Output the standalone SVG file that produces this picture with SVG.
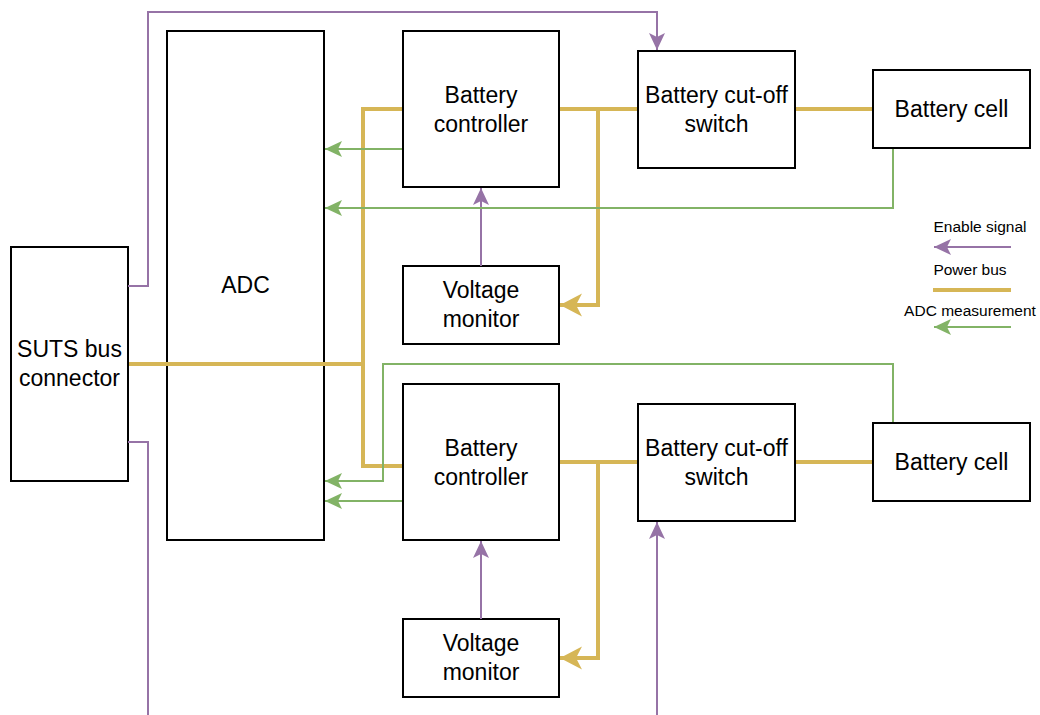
<svg xmlns="http://www.w3.org/2000/svg" width="1040" height="715" viewBox="0 0 1040 715">
<style>
.box{fill:#fff;stroke:#000;stroke-width:2}
.t{font-family:"Liberation Sans",Arial,sans-serif;font-size:23px;fill:#000;text-anchor:middle}
.lg{font-family:"Liberation Sans",Arial,sans-serif;font-size:15.5px;fill:#000;text-anchor:middle}
.en{fill:none;stroke:#9673a6;stroke-width:2}
.pw{fill:none;stroke:#d6b656;stroke-width:4}
.ad{fill:none;stroke:#82b366;stroke-width:2}
</style>
<defs>
<marker id="aP" markerUnits="userSpaceOnUse" viewBox="-18 -9 19 18" refX="0" refY="0" markerWidth="19" markerHeight="18" orient="auto"><path d="M0,0 L-17,-8 L-13,0 L-17,8 Z" fill="#9673a6"/></marker>
<marker id="aG" markerUnits="userSpaceOnUse" viewBox="-18 -9 19 18" refX="0" refY="0" markerWidth="19" markerHeight="18" orient="auto"><path d="M0,0 L-17,-8 L-13,0 L-17,8 Z" fill="#82b366"/></marker>
<marker id="aY" markerUnits="userSpaceOnUse" viewBox="-23 -12 24 24" refX="0" refY="0" markerWidth="24" markerHeight="24" orient="auto"><path d="M0,0 L-22,-11.5 L-16,0 L-22,11.5 Z" fill="#d6b656"/></marker>
</defs>
<g id="suts"><rect class="box" x="11" y="247" width="117" height="234"/><text class="t" x="69.5" y="357">SUTS bus</text><text class="t" x="69.5" y="386">connector</text></g>
<g id="adc"><rect class="box" x="167" y="31" width="157" height="509"/><text class="t" x="245.5" y="293">ADC</text></g>
<g id="ctrl1"><rect class="box" x="403" y="31" width="156" height="156"/><text class="t" x="481" y="103">Battery</text><text class="t" x="481" y="132">controller</text></g>
<g id="sw1"><rect class="box" x="638" y="51" width="157" height="117"/><text class="t" x="716.5" y="103">Battery cut-off</text><text class="t" x="716.5" y="132">switch</text></g>
<g id="cell1"><rect class="box" x="873" y="70" width="157" height="78"/><text class="t" x="951.5" y="117">Battery cell</text></g>
<g id="vm1"><rect class="box" x="403" y="266" width="156" height="78"/><text class="t" x="481" y="298">Voltage</text><text class="t" x="481" y="327">monitor</text></g>
<g id="ctrl2"><rect class="box" x="403" y="384" width="156" height="156"/><text class="t" x="481" y="456">Battery</text><text class="t" x="481" y="485">controller</text></g>
<g id="sw2"><rect class="box" x="638" y="404" width="157" height="117"/><text class="t" x="716.5" y="456">Battery cut-off</text><text class="t" x="716.5" y="485">switch</text></g>
<g id="cell2"><rect class="box" x="873" y="423" width="157" height="78"/><text class="t" x="951.5" y="470">Battery cell</text></g>
<g id="vm2"><rect class="box" x="403" y="619" width="156" height="78"/><text class="t" x="481" y="651">Voltage</text><text class="t" x="481" y="680">monitor</text></g>
<g id="connectors">
<path class="en" d="M128,286 H148 V12 H657 V50" marker-end="url(#aP)"/>
<path class="en" d="M128,442 H148 V715"/>
<path class="en" d="M657,715 V522" marker-end="url(#aP)"/>
<path class="en" d="M481,266 V188" marker-end="url(#aP)"/>
<path class="en" d="M481,619 V541" marker-end="url(#aP)"/>
<path class="pw" d="M129,364 H363"/>
<path class="pw" d="M402,109 H363 V466 H402"/>
<path class="pw" d="M560,109 H637"/>
<path class="pw" d="M598,109 V305 H560" marker-end="url(#aY)"/>
<path class="pw" d="M796,109 H872"/>
<path class="pw" d="M560,462 H637"/>
<path class="pw" d="M598,462 V658 H560" marker-end="url(#aY)"/>
<path class="pw" d="M796,462 H872"/>
<path class="ad" d="M402,149 H325" marker-end="url(#aG)"/>
<path class="ad" d="M893,149 V208 H325" marker-end="url(#aG)"/>
<path class="ad" d="M893,422 V364 H383 V481 H325" marker-end="url(#aG)"/>
<path class="ad" d="M402,501 H325" marker-end="url(#aG)"/>
</g>
<g id="legend">
<text class="lg" x="980" y="232">Enable signal</text>
<path class="en" d="M1011,247 H934" marker-end="url(#aP)"/>
<text class="lg" x="970" y="275">Power bus</text>
<path class="pw" d="M933,290 H1011"/>
<text class="lg" x="970" y="316">ADC measurement</text>
<path class="ad" d="M1011,327 H934" marker-end="url(#aG)"/>
</g>
</svg>
